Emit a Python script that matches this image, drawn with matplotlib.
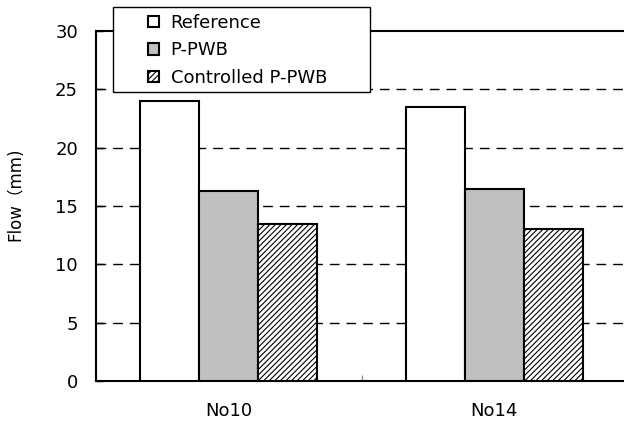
import matplotlib
matplotlib.use("Agg")
import matplotlib.pyplot as plt
from matplotlib.patches import Rectangle
import numpy as np

plt.rcParams['font.family'] = ['DejaVu Sans', 'Noto Sans CJK JP']
plt.rcParams['hatch.linewidth'] = 0.8

categories = ["No10", "No14"]
series_names = ["Reference", "P-PWB", "Controlled P-PWB"]
reference = [24.0, 23.5]
ppwb = [16.3, 16.45]
controlled = [13.5, 13.0]
yticks = [0, 5, 10, 15, 20, 25, 30]

W, H = 624, 425
fig = plt.figure(figsize=(W/100, H/100), dpi=100)
ax = fig.add_axes([96/W, 1-381/H, 531/W, 350/H])

x = np.arange(len(categories))
w = 0.222
styles = [dict(facecolor="white", hatch=None),
          dict(facecolor="#c0c0c0", hatch=None),
          dict(facecolor="white", hatch="//////")]
data = [reference, ppwb, controlled]
handles = []
for i, (vals, name, st) in enumerate(zip(data, series_names, styles)):
    b = ax.bar(x + (i - 1) * w, vals, w, label=name, edgecolor="black",
               linewidth=1.5, zorder=3, **st)
    handles.append(b)

ax.set_xlim(-0.5, 1.5)
ax.set_ylim(0, 30)
ax.set_yticks(yticks)
ax.set_yticklabels([str(t) for t in yticks], fontsize=13)
ax.tick_params(axis='y', direction='in', length=5, width=1, pad=13, left=True)
ax.set_xticks([0.5])
ax.set_xticklabels([""])
ax.tick_params(axis='x', which='major', direction='in', length=4, color='gray')
ax.set_xticks(x, minor=True)
ax.set_xticklabels(categories, minor=True, fontsize=13)
ax.tick_params(axis='x', which='minor', length=0, pad=15)

for y in yticks[1:-1]:
    ax.axhline(y, color="black", linestyle=(0, (7, 5)), linewidth=1, zorder=1)

for s in ax.spines.values():
    s.set_linewidth(1.5)

ax.set_ylabel("Flow（mm)", fontsize=12)
ax.yaxis.set_label_coords((24-96)/531, (381-194)/350)

# legend frame
frame = Rectangle((113/W, 1-92/H), (370-113)/W, (92-7)/H, transform=fig.transFigure,
                  facecolor="white", edgecolor="black", linewidth=1.0, zorder=5)
fig.patches.append(frame)

leg = fig.legend(handles, series_names, loc="upper left",
                 bbox_to_anchor=(148/W, 1-14/H),
                 frameon=False, fontsize=13, handlelength=0.6, handleheight=0.6,
                 handletextpad=0.65, labelspacing=0.52, borderpad=0,
                 borderaxespad=0)
leg.set_zorder(6)

fig.savefig("out.png", dpi=100)
